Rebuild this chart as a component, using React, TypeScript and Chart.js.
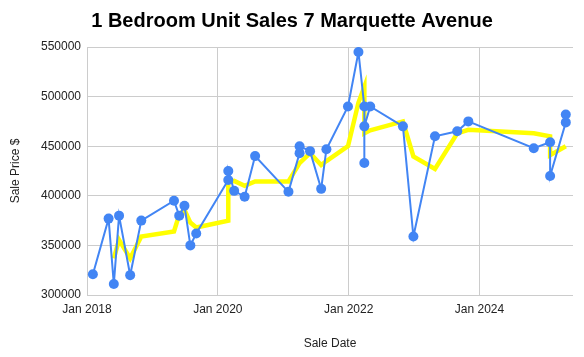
import React, { useEffect, useRef } from "react";
import { Chart, registerables } from "chart.js";

Chart.register(...registerables);

const chartTitle = "1 Bedroom Unit Sales 7 Marquette Avenue";
const xAxisTitle = "Sale Date";
const yAxisTitle = "Sale Price $";

// Sale dates as decimal years
const saleDates = [
  2018.09, 2018.33, 2018.41, 2018.49, 2018.66, 2018.83, 2019.33, 2019.41, 2019.49, 2019.58,
  2019.67, 2020.16, 2020.16, 2020.25, 2020.41, 2020.57, 2021.08, 2021.25, 2021.25, 2021.41,
  2021.58, 2021.66, 2021.99, 2022.15, 2022.24, 2022.24, 2022.24, 2022.33, 2022.83, 2022.99,
  2023.32, 2023.66, 2023.83, 2024.83, 2025.08, 2025.08, 2025.32, 2025.32,
];
const salePrices = [
  321000, 377000, 311000, 380000, 320000, 375000, 395000, 380000, 390000, 350000,
  362000, 416000, 425000, 405000, 399000, 440000, 404000, 443000, 450000, 445000,
  407000, 447000, 490000, 545000, 490000, 433000, 470000, 490000, 470000, 359000,
  460000, 465000, 475000, 448000, 454000, 420000, 474000, 482000,
];

// Moving-average trend line
const trendDates = [
  2018.41, 2018.49, 2018.66, 2018.83, 2019.33, 2019.41, 2019.49, 2019.58, 2019.67, 2020.16,
  2020.16, 2020.25, 2020.41, 2020.57, 2021.08, 2021.25, 2021.41, 2021.58, 2021.66, 2021.99,
  2022.15, 2022.24, 2022.24, 2022.33, 2022.83, 2022.99, 2023.32, 2023.66, 2023.83, 2024.83,
  2025.08, 2025.08, 2025.32,
];
const trendValues = [
  337000, 355500, 337000, 359000, 364000, 381000, 386000, 373000, 368000, 375000,
  414000, 415000, 410000, 414500, 414500, 433000, 443000, 431000, 435000, 450000,
  494000, 510000, 463000, 466000, 475000, 439700, 427000, 463000, 466500, 463000,
  460000, 441000, 450000,
];

const xTickYears = [2018, 2020, 2022, 2024];
const xMin = 2018;
const xMax = 2025.43;
const yMin = 300000;
const yMax = 550000;
const yStep = 50000;

export default function App() {
  const ref = useRef<HTMLCanvasElement | null>(null);

  useEffect(() => {
    if (!ref.current) return;
    const font = "'Liberation Sans', Arial, sans-serif";
    const chart = new Chart(ref.current, {
      type: "line",
      data: {
        datasets: [
          {
            label: "Sale Price",
            data: saleDates.map((d, i) => ({ x: d, y: salePrices[i] })),
            borderColor: "#4285F4",
            backgroundColor: "#4285F4",
            pointBackgroundColor: "#4285F4",
            pointBorderColor: "#4285F4",
            borderWidth: 2,
            pointRadius: 5,
            pointBorderWidth: 0,
            tension: 0,
            order: 0,
          },
          {
            label: "Trend",
            data: trendDates.map((d, i) => ({ x: d, y: trendValues[i] })),
            borderColor: "#FFFF00",
            backgroundColor: "#FFFF00",
            borderWidth: 4.5,
            pointRadius: 0,
            tension: 0,
            order: 1,
          },
        ],
      },
      options: {
        responsive: false,
        animation: false,
        layout: { padding: { left: 0, right: 0, top: 0, bottom: 0 } },
        plugins: {
          legend: { display: false },
          tooltip: { enabled: false },
          title: {
            display: true,
            text: chartTitle,
            color: "#000",
            font: { family: font, size: 20, weight: "bold" },
            padding: { top: 9, bottom: 14 },
          },
        },
        scales: {
          x: {
            type: "linear",
            min: xMin,
            max: xMax,
            afterBuildTicks: (scale: any) => {
              scale.ticks = xTickYears.map((v) => ({ value: v }));
            },
            afterFit: (scale: any) => {
              scale.height = 62;
            },
            ticks: {
              color: "#222",
              font: { family: font, size: 12 },
              padding: 7,
              maxRotation: 0,
              autoSkip: false,
              callback: (v: any) => "Jan " + v,
            },
            grid: { color: "#cccccc", drawTicks: false, lineWidth: 1 },
            border: { display: false },
            title: {
              display: true,
              text: xAxisTitle,
              color: "#222",
              font: { family: font, size: 12 },
              padding: { top: 0, bottom: 6 },
            },
          },
          y: {
            type: "linear",
            min: yMin,
            max: yMax,
            ticks: {
              stepSize: yStep,
              color: "#222",
              font: { family: font, size: 12 },
              padding: 6,
              callback: (v: any) => String(v),
            },
            afterFit: (scale: any) => {
              scale.width = 87;
            },
            grid: { color: "#cccccc", drawTicks: false, lineWidth: 1 },
            border: { display: false },
            title: {
              display: true,
              text: yAxisTitle,
              color: "#222",
              font: { family: font, size: 12 },
              padding: { top: 8, bottom: 0 },
            },
          },
          yRight: {
            type: "linear",
            position: "right",
            min: yMin,
            max: yMax,
            display: true,
            ticks: { display: false },
            grid: { display: false, drawTicks: false },
            border: { display: false },
            afterFit: (scale: any) => {
              scale.width = 11;
            },
          },
        },
      },
    });
    return () => chart.destroy();
  }, []);

  return (
    <div style={{ position: "absolute", left: 0, top: 0, width: 584, height: 357, background: "#fff" }}>
      <canvas ref={ref} width={584} height={357} />
    </div>
  );
}
